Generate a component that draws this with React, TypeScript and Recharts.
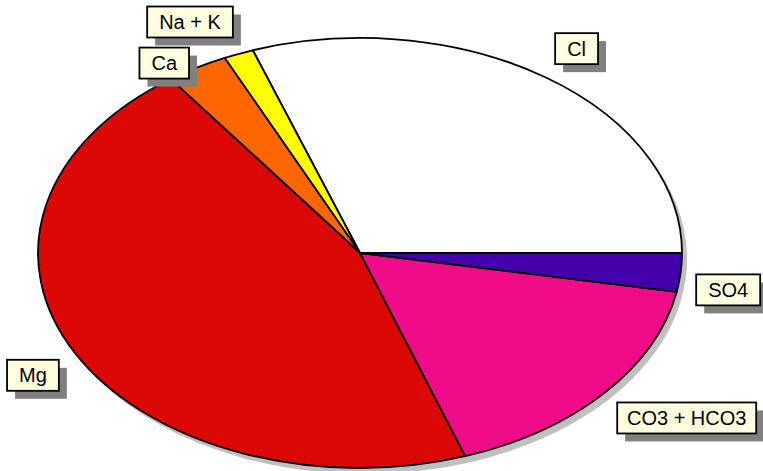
import React from 'react';
import { PieChart, Pie, Cell } from 'recharts';

const names = ['Cl', 'Na + K', 'Ca', 'Mg', 'CO3 + HCO3', 'SO4'];
const values = [30.4, 1.5, 3.1, 45.3, 16.8, 2.9];
const colors = ['#FFFFFF', '#FFFF00', '#FF6600', '#DC0805', '#EE0C88', '#4400AA'];
const labelNudgeX = [-1, -28, -5, 7, 41, -7];
const labelNudgeY = [1, 2, 27, 6, 1, 14];

const W = 763;
const H = 471;
const CX = 360;
const CY = 253;
const RX = 322;
const RY = 215;
const K = RY / RX;
const LABEL_R = 1.17;
const FONT = "'Liberation Sans', Arial, sans-serif";
const FONT_SIZE = 20;

const data = names.map((n, i) => ({ name: n, value: values[i] }));
const shadowData = [{ name: 'shadow', value: 1 }];

const charW: Record<string, number> = {
  C: 722, O: 778, '3': 556, ' ': 278, '+': 584, H: 722, N: 722, a: 556, K: 667,
  l: 222, M: 833, g: 556, S: 667, '4': 556,
};
const textWidth = (s: string, size: number) =>
  s.split('').reduce((acc, c) => acc + (charW[c] ?? 556), 0) * size / 1000;

const RAD = Math.PI / 180;

function ellSector(cx: number, cy: number, r: number, s: number, e: number) {
  const ry = r * K;
  const x1 = cx + r * Math.cos(s * RAD);
  const y1 = cy - ry * Math.sin(s * RAD);
  const x2 = cx + r * Math.cos(e * RAD);
  const y2 = cy - ry * Math.sin(e * RAD);
  const large = Math.abs(e - s) > 180 ? 1 : 0;
  const sweep = s > e ? 1 : 0;
  return `M${cx},${cy} L${x1},${y1} A${r},${ry} 0 ${large} ${sweep} ${x2},${y2} Z`;
}

const SectorShape = (p: any) => (
  <path
    d={ellSector(p.cx, p.cy, p.outerRadius, p.startAngle, p.endAngle)}
    fill={p.fill}
    stroke="#000000"
    strokeWidth={1.8}
    strokeLinejoin="round"
  />
);

const ShadowShape = (p: any) => (
  <ellipse cx={p.cx + 5} cy={p.cy + 6} rx={p.outerRadius} ry={p.outerRadius * K} fill="#C0C0C0" />
);

const renderLabel = (p: any) => {
  const i = p.index;
  const name = names[i];
  const r = p.outerRadius * LABEL_R;
  const lx = p.cx + r * Math.cos(p.midAngle * RAD) + labelNudgeX[i];
  const ly = p.cy - r * K * Math.sin(p.midAngle * RAD) + labelNudgeY[i];
  const w = Math.min(textWidth(name, FONT_SIZE) + 24, 139);
  const h = 31;
  return (
    <g key={`lbl-${i}`}>
      <rect x={lx - w / 2 + 8} y={ly - h / 2 + 8} width={w} height={h} fill="#808080" />
      <rect x={lx - w / 2} y={ly - h / 2} width={w} height={h} fill="#FFFFE0" stroke="#000" strokeWidth={1.8} />
      <text x={lx} y={ly + 7} textAnchor="middle" fontSize={FONT_SIZE} fontFamily={FONT} fill="#000">
        {name}
      </text>
    </g>
  );
};

export default function App() {
  return (
    <div style={{ position: 'absolute', left: 0, top: 0, width: W, height: H, background: '#fff' }}>
      <PieChart width={W} height={H} margin={{ top: 0, right: 0, bottom: 0, left: 0 }}>
        <Pie
          data={shadowData}
          dataKey="value"
          nameKey="name"
          cx={CX}
          cy={CY}
          innerRadius={0}
          outerRadius={RX}
          startAngle={0}
          endAngle={360}
          isAnimationActive={false}
          shape={ShadowShape}
          activeShape={ShadowShape}
          inactiveShape={ShadowShape}
          label={false}
          labelLine={false}
          stroke="none"
        >
          <Cell fill="#C0C0C0" />
        </Pie>
        <Pie
          data={data}
          dataKey="value"
          nameKey="name"
          cx={CX}
          cy={CY}
          innerRadius={0}
          outerRadius={RX}
          startAngle={0}
          endAngle={360}
          isAnimationActive={false}
          shape={SectorShape}
          activeShape={SectorShape}
          inactiveShape={SectorShape}
          label={renderLabel}
          labelLine={false}
          stroke="#000"
        >
          {data.map((d, i) => (
            <Cell key={d.name} fill={colors[i]} />
          ))}
        </Pie>
      </PieChart>
    </div>
  );
}
